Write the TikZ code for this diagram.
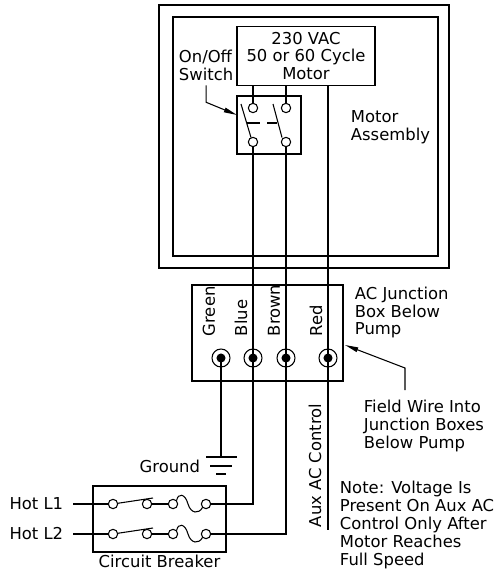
\documentclass[tikz,border=0pt]{standalone}
\usepackage{fontspec}
\setmainfont{DejaVu Sans}
\usetikzlibrary{arrows.meta,positioning}
\tikzset{font=\fontsize{12.3}{13.4}\selectfont}
\tikzstyle{box}=[draw,inner sep=0pt]
\tikzstyle{cont}=[circle,draw,fill=white,inner sep=0pt,minimum size=7pt]
\tikzstyle{term}=[circle,draw,inner sep=0pt,minimum size=13.5pt]
\tikzstyle{lab}=[rotate=90,anchor=west,inner sep=1pt]
\tikzstyle{lead}=[-{Triangle[length=10pt,width=3.5pt]}]

\begin{document}
\begin{tikzpicture}[x=0.75pt,y=-0.75pt,line width=0.8pt]
\useasboundingbox (0,0) rectangle (498,571);
% pump housing
\draw[line width=2.1pt] (159,5) rectangle (449,268);
\draw[line width=1.6pt] (173,17) rectangle (438,256);
\node[align=left,anchor=west] (MA) at (346,127.5) {Motor\\Assembly};

% motor and on/off switch
\node[box,align=center,minimum width=103.5pt,minimum height=44.25pt] (M) at (306,56) {230 VAC\\50 or 60 Cycle\\Motor};
\node[box,minimum width=48pt,minimum height=43.5pt] (S) at (269,125) {};
\node[cont] (S1) at (253,108) {};
\node[cont] (S2) at (286,108) {};
\node[cont] (S3) at (253,142) {};
\node[cont] (S4) at (286,142) {};
\draw (241,104) -- (251,137.5) (273,104) -- (282,137.5);
\draw[dash pattern=on 9.75pt off 5.25pt] (247,123) -- (277,123);
\node[align=left,anchor=west] (OO) at (174,65) {On/Off\\Switch};
\coordinate (st) at (237,115);
\draw[lead] (OO.south) -- ++(0,17) -- (st);

% junction box
\node[box,line width=1.6pt,minimum width=113.25pt,minimum height=72pt] (J) at (267.5,333) {};
\node[term] (J1) at (221,358) {};
\node[term] (J2) at (253,358) {};
\node[term] (J3) at (286,358) {};
\node[term] (J4) at (328,358) {};
\foreach \t in {J1,J2,J3,J4} \fill (\t) circle (3.4pt);
\node[lab] at (209,338) {Green};
\node[lab] at (241,338) {Blue};
\node[lab] at (274,338) {Brown};
\node[lab] at (316,338) {Red};
\node[align=left,anchor=west] (AC) at (350,312.5) {AC Junction\\Box Below\\Pump};
\node[align=left,anchor=west] (FW) at (359,426) {Field Wire Into\\Junction Boxes\\Below Pump};
\coordinate (fw) at (405,390);
\coordinate (jt) at (345,345);
\draw[lead] (fw) -- ++(0,-22) -- (jt);

% wiring
\draw (M.south -| S1) -- (S1);
\draw (M.south -| S2) -- (S2);
\coordinate (aux) at (328,530);
\draw (M.south -| J4) -- (J4.center) -- (aux);
\node[lab] at (315,529) {Aux AC Control};
\node[align=left,anchor=west] (N) at (335,525) {Note: Voltage Is\\Present On Aux AC\\Control Only After\\Motor Reaches\\Full Speed};

% ground
\coordinate (G) at (221,457);
\draw (J1.center) -- (G);
\draw (G) ++(-15,0) -- ++(31,0) (G) ++(-11,9) -- ++(22,0) (G) ++(-5,17) -- ++(10,0);
\node[anchor=east] (GL) at (205,466) {Ground};

% circuit breaker
\node[box,minimum width=99.75pt,minimum height=49.5pt] (CB) at (159.5,519) {};
\node[below=-2pt of CB] (CBL) {Circuit Breaker};
\foreach \r/\y in {1/504,2/534} {
  \node[cont] (A\r) at (113,\y) {};
  \node[cont] (B\r) at (147,\y) {};
  \node[cont] (C\r) at (173,\y) {};
  \node[cont] (D\r) at (206,\y) {};
  \node[anchor=east,inner sep=7pt] (H\r) at (73,\y) {Hot L\r};
  \draw (H\r.east) -- (A\r);
  \draw (A\r) -- ++(40,-6);
  \draw (B\r) -- (C\r);
  \draw (C\r.north east) .. controls (178,{\y-11}) and (185,{\y-11}) .. (188,\y)
    .. controls (191,{\y+10}) and (199,{\y+10}) .. (D\r.south west);
}
\draw (S3) -- (J2.center) |- (D1);
\draw (S4) -- (J3.center) |- (D2);
\end{tikzpicture}
\end{document}
